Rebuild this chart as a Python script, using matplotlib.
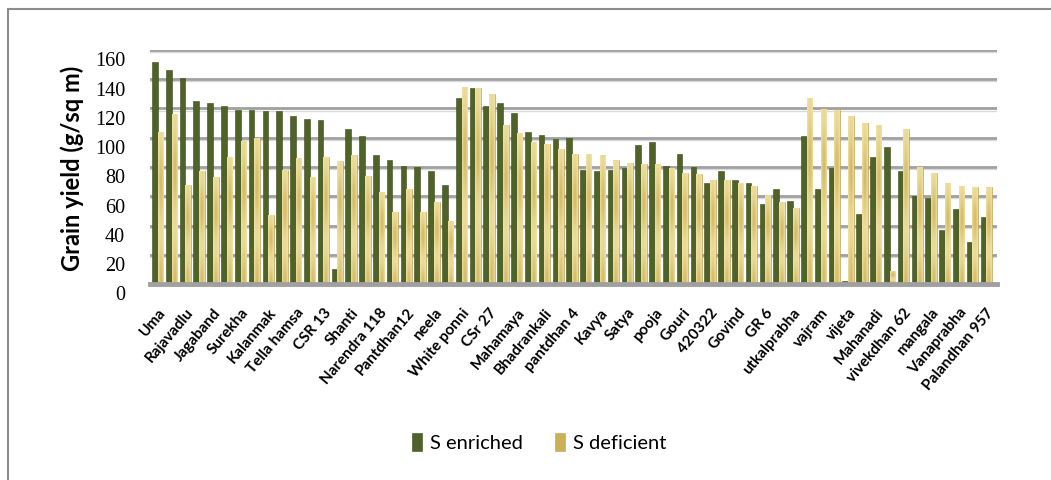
"""Grain yield of rice varieties under S-enriched and S-deficient soil."""
import numpy as np
import matplotlib

matplotlib.use("Agg")
import matplotlib.pyplot as plt  # noqa: E402
from matplotlib.colors import to_rgb  # noqa: E402
from matplotlib.patches import Rectangle  # noqa: E402
from matplotlib.transforms import ScaledTranslation  # noqa: E402

# every second variety carries a label on the x axis
varieties = [
    "Uma", "Rajavadlu", "Jagaband", "Surekha", "Kalanmak", "Tella hamsa", "CSR 13",
    "Shanti", "Narendra 118", "Pantdhan12", "neela", "White ponni", "CSr 27",
    "Mahamaya", "Bhadrankali", "pantdhan 4", "Kavya", "Satya", "pooja", "Gouri",
    "420322", "Govind", "GR 6", "utkalprabha", "vajram", "vijeta", "Mahanadi",
    "vivekdhan 62", "mangala", "Vanaprabha", "Palandhan 957",
]
s_enriched = [
    152, 146, 141, 125, 124, 122, 119, 119, 118, 118,
    115, 113, 112, 10, 106, 101, 88, 85, 81, 80,
    77, 68, 127, 134, 122, 124, 117, 104, 102, 99,
    100, 78, 77, 78, 79, 95, 97, 81, 89, 80,
    69, 77, 71, 69, 55, 65, 57, 101, 65, 79,
    2, 48, 87, 94, 77, 60, 59, 37, 51, 29, 46,
]
s_deficient = [
    104, 116, 68, 77, 73, 87, 98, 100, 47, 78,
    86, 73, 87, 84, 88, 74, 63, 49, 65, 49,
    56, 43, 135, 134, 130, 109, 103, 97, 96, 92,
    89, 89, 88, 85, 83, 82, 82, 79, 76, 75,
    71, 71, 69, 67, 61, 56, 52, 127, 120, 119,
    115, 110, 109, 9, 106, 80, 76, 69, 67, 66, 66,
]
y_ticks = [0, 20, 40, 60, 80, 100, 120, 140, 160]

GREEN = "#4f6228"
GOLD_LIGHT, GOLD_DARK = "#f3e6ab", "#cdb055"
GRID = "#a0a0a0"


def gold_gradient(h=64, w=16):
    """Cream-to-gold shading across the bar, with soft bands down its length."""
    light, dark = np.array(to_rgb(GOLD_LIGHT)), np.array(to_rgb(GOLD_DARK))
    xs = np.linspace(0, 1, w)
    across = 0.2 + 0.6 * np.sin(np.pi * xs) ** 1.2
    ys = np.linspace(0, 1, h)[:, None]
    down = 0.65 + 0.35 * np.cos(2 * np.pi * ys * 1.5)
    mix = np.clip(across[None, :] * down, 0, 1)[..., None]
    return light * (1 - mix) + dark * mix


fig = plt.figure(figsize=(10.51, 4.81), dpi=100)
ax = fig.add_axes([150 / 1051, 1 - 285 / 481, 847 / 1051, 234 / 481])

n = len(s_enriched)
x = np.arange(n)
w = 0.41
ax.bar(x - w / 2, s_enriched, w, color=GREEN, edgecolor="#3b4a1e", linewidth=0.4,
       label="S enriched", zorder=3)
yellow = ax.bar(x + w / 2, s_deficient, w, color=GOLD_DARK, edgecolor="#bba457",
                linewidth=0.4, label="S deficient", zorder=3)
grad = gold_gradient()
for rect in yellow:
    x0, hgt = rect.get_x(), rect.get_height()
    im = ax.imshow(grad, extent=[x0, x0 + w, 0, hgt], aspect="auto", zorder=3.5,
                   interpolation="bilinear", origin="lower")
    im.set_clip_path(rect)

ax.set_xlim(-0.56, n - 1 + 0.78)
ax.set_ylim(0, 160)
shadow = ax.get_yaxis_transform() + ScaledTranslation(0, -1.5 / 72, fig.dpi_scale_trans)
for v in y_ticks[1:]:
    ax.axhline(v, color=GRID, linewidth=2.0, zorder=1)
    ax.plot([0, 1], [v, v], color="#d9d9d9", linewidth=1.0, zorder=0.9, transform=shadow)

for side in ("top", "right", "left"):
    ax.spines[side].set_visible(False)
ax.spines["bottom"].set_color(GRID)
ax.spines["bottom"].set_linewidth(3.5)
ax.spines["bottom"].set_zorder(4)

ax.set_yticks(y_ticks)
ax.tick_params(axis="y", length=0, pad=18)
for lbl in ax.get_yticklabels():
    lbl.set_fontfamily("Liberation Serif")
    lbl.set_fontsize(14.5)
    lbl.set_transform(lbl.get_transform() + ScaledTranslation(0, -6 / 72, fig.dpi_scale_trans))

ax.set_xticks(x[::2])
ax.set_xticklabels(varieties, rotation=50, ha="right", rotation_mode="anchor",
                   fontsize=11, fontweight="bold", fontfamily="Lato")
ax.tick_params(axis="x", length=0, pad=15)

ax.set_ylabel("Grain yield (g/sq m)", fontsize=17, fontweight="bold",
              fontfamily="Lato", labelpad=8)

leg = fig.legend(loc="center", bbox_to_anchor=(539 / 1051, 1 - 443 / 481), ncol=2,
                 frameon=False, prop={"family": "Lato", "size": 14.5},
                 handlelength=0.5, handleheight=1.0, handletextpad=0.4, columnspacing=1.6)

# chart frame
fig.patches.append(Rectangle((8 / 1051, -0.1), 1.2, 1.1 - 10 / 481, transform=fig.transFigure,
                             fill=False, edgecolor="#8c8c8c", linewidth=1.5))

fig.savefig("out.png", dpi=100)
